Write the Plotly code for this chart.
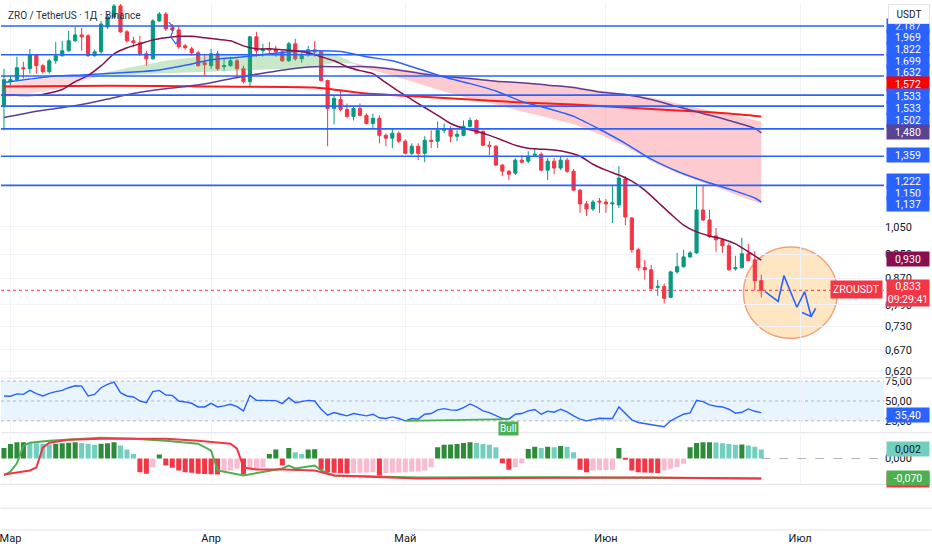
import math
import pandas as pd
import plotly.graph_objects as go

# ---------------- data ----------------
BASE = pd.Timestamp("2025-02-28")
dates = pd.date_range(BASE, periods=118, freq="D")

open_p = [1.630, 1.785, 1.798, 1.878, 1.871, 1.969, 1.892, 1.851, 1.926, 1.962,
          1.998, 2.072, 2.117, 2.110, 1.962, 1.990, 2.180, 2.260, 2.353, 2.141,
          2.072, 2.057, 1.976, 1.940, 2.228, 2.285, 2.172, 2.156, 2.034, 2.012,
          1.983, 1.912, 1.892, 1.976, 1.885, 1.892, 1.926, 1.871, 1.785, 2.102,
          1.998, 2.012, 2.005, 1.990, 1.926, 2.049, 1.940, 1.969, 2.005, 1.990,
          1.792, 1.618, 1.672, 1.613, 1.572, 1.618, 1.578, 1.532, 1.561, 1.467,
          1.452, 1.478, 1.436, 1.374, 1.410, 1.374, 1.441, 1.436, 1.494, 1.500,
          1.462, 1.467, 1.516, 1.549, 1.489, 1.415, 1.410, 1.316, 1.287, 1.278,
          1.340, 1.335, 1.364, 1.369, 1.292, 1.335, 1.302, 1.340, 1.287, 1.201,
          1.142, 1.121, 1.154, 1.150, 1.142, 1.138, 1.251, 1.085, 0.966, 0.905,
          0.898, 0.842, 0.845, 0.812, 0.891, 0.908, 0.941, 0.955, 1.117, 1.077,
          1.016, 1.002, 0.980, 0.901, 0.905, 0.952, 0.931, 0.863]
high_p = [1.871, 1.825, 1.955, 1.919, 2.012, 1.976, 1.905, 1.940, 2.064, 2.072,
          2.148, 2.180, 2.172, 2.125, 2.005, 2.228, 2.285, 2.414, 2.396, 2.156,
          2.102, 2.110, 1.998, 2.244, 2.302, 2.302, 2.203, 2.188, 2.049, 2.027,
          1.998, 1.976, 2.012, 1.998, 1.940, 1.955, 1.940, 1.892, 2.110, 2.141,
          2.049, 2.064, 2.034, 1.998, 2.064, 2.087, 1.983, 2.034, 2.072, 1.998,
          1.798, 1.697, 1.728, 1.648, 1.630, 1.648, 1.589, 1.589, 1.578, 1.478,
          1.505, 1.489, 1.446, 1.425, 1.425, 1.462, 1.494, 1.543, 1.532, 1.516,
          1.494, 1.549, 1.566, 1.555, 1.494, 1.436, 1.415, 1.320, 1.292, 1.350,
          1.364, 1.384, 1.400, 1.379, 1.350, 1.350, 1.359, 1.350, 1.297, 1.206,
          1.154, 1.159, 1.167, 1.163, 1.219, 1.311, 1.264, 1.089, 0.973, 0.931,
          0.914, 0.866, 0.854, 0.895, 0.955, 0.966, 0.962, 1.223, 1.223, 1.117,
          1.046, 1.005, 0.991, 0.945, 1.009, 0.987, 0.962, 0.882]
low_p = [1.494, 1.759, 1.792, 1.805, 1.838, 1.838, 1.838, 1.838, 1.905, 1.955,
         1.990, 2.064, 1.998, 1.955, 1.955, 1.976, 2.164, 2.252, 2.133, 2.057,
         2.027, 1.962, 1.892, 1.933, 2.219, 2.148, 2.141, 2.012, 2.005, 1.962,
         1.885, 1.825, 1.871, 1.858, 1.858, 1.885, 1.805, 1.772, 1.753, 1.955,
         1.955, 1.976, 1.955, 1.919, 1.919, 1.926, 1.912, 1.955, 1.955, 1.785,
         1.410, 1.527, 1.601, 1.561, 1.549, 1.572, 1.527, 1.505, 1.425, 1.410,
         1.400, 1.425, 1.369, 1.364, 1.340, 1.330, 1.400, 1.400, 1.478, 1.430,
         1.436, 1.462, 1.510, 1.473, 1.410, 1.364, 1.311, 1.264, 1.246, 1.269,
         1.325, 1.325, 1.359, 1.287, 1.246, 1.273, 1.292, 1.278, 1.197, 1.105,
         1.093, 1.113, 1.105, 1.105, 1.065, 1.125, 1.057, 0.955, 0.895, 0.866,
         0.835, 0.817, 0.794, 0.809, 0.885, 0.905, 0.938, 0.952, 1.073, 1.009,
         0.959, 0.955, 0.895, 0.895, 0.901, 0.928, 0.832, 0.812]
close_p = [1.798, 1.798, 1.878, 1.871, 1.969, 1.892, 1.851, 1.926, 1.962, 1.998,
           2.072, 2.117, 2.102, 1.962, 1.990, 2.203, 2.260, 2.353, 2.141, 2.072,
           2.057, 1.976, 1.940, 2.228, 2.285, 2.164, 2.156, 2.027, 2.020, 1.983,
           1.892, 1.898, 1.976, 1.871, 1.892, 1.926, 1.871, 1.785, 2.102, 1.998,
           2.012, 2.005, 1.990, 1.926, 2.049, 1.940, 1.962, 2.005, 1.990, 1.792,
           1.618, 1.679, 1.613, 1.572, 1.618, 1.578, 1.532, 1.561, 1.467, 1.452,
           1.478, 1.436, 1.374, 1.410, 1.374, 1.441, 1.436, 1.494, 1.500, 1.462,
           1.473, 1.516, 1.549, 1.478, 1.415, 1.410, 1.316, 1.287, 1.273, 1.340,
           1.330, 1.359, 1.369, 1.292, 1.335, 1.302, 1.340, 1.287, 1.201, 1.142,
           1.121, 1.150, 1.150, 1.142, 1.146, 1.255, 1.089, 0.966, 0.905, 0.898,
           0.838, 0.845, 0.809, 0.891, 0.908, 0.941, 0.955, 1.117, 1.077, 1.013,
           1.002, 0.980, 0.898, 0.905, 0.952, 0.928, 0.863, 0.833]

# moving averages (day index, value)
ma_fast_days = [0, 3, 6, 9] + list(range(11, 118, 2))
ma_fast_vals = [1.702, 1.697, 1.703, 1.734, 1.785, 1.825, 1.892, 1.976, 2.020, 2.049,
                2.079, 2.095, 2.106, 2.106, 2.095, 2.083, 2.072, 2.034, 2.012, 2.012,
                2.005, 1.998, 1.983, 1.955, 1.926, 1.885, 1.858, 1.838, 1.778, 1.722,
                1.672, 1.624, 1.578, 1.532, 1.505, 1.489, 1.467, 1.441, 1.415, 1.400,
                1.395, 1.390, 1.379, 1.359, 1.320, 1.292, 1.269, 1.241, 1.201, 1.150,
                1.101, 1.057, 1.031, 1.016, 1.005, 0.987, 0.959, 0.930]
ma_mid_days = list(range(0, 117, 4)) + [117]
ma_mid_vals = [1.779, 1.802, 1.822, 1.829, 1.839, 1.848, 1.862, 1.895, 1.933, 1.950,
               1.969, 1.990, 1.998, 1.992, 1.955, 1.926, 1.871, 1.815, 1.772, 1.725,
               1.660, 1.618, 1.572, 1.500, 1.425, 1.345, 1.287, 1.243, 1.206, 1.167, 1.150]
ma_slow_days = list(range(0, 117, 4)) + [117]
ma_slow_vals = [1.566, 1.595, 1.618, 1.642, 1.675, 1.709, 1.734, 1.753, 1.778, 1.812,
                1.841, 1.868, 1.885, 1.885, 1.885, 1.868, 1.841, 1.818, 1.805, 1.788,
                1.778, 1.762, 1.747, 1.718, 1.703, 1.672, 1.630, 1.589, 1.549, 1.505, 1.480]
ma_long_days = [0, 16, 32, 48, 56, 64, 72, 80, 88, 96, 104, 112, 117]
ma_long_vals = [1.753, 1.759, 1.753, 1.747, 1.709, 1.691, 1.672, 1.654, 1.642, 1.624,
                1.607, 1.589, 1.572]

# cloud bands
bear1_days = [0, 4, 8, 12, 15]
bear1_upper = [1.759, 1.798, 1.812, 1.818, 1.825]
bear1_lower = [1.685, 1.709, 1.734, 1.785, 1.825]
bull_days = [15, 20, 25, 30, 35, 40, 45, 48, 51, 54]
bull_upper = [1.838, 1.885, 1.926, 1.955, 1.969, 1.976, 1.990, 1.998, 1.976, 1.912]
bull_lower = [1.825, 1.830, 1.840, 1.851, 1.858, 1.865, 1.871, 1.885, 1.912, 1.905]
bear2_days = [54, 56, 60, 64, 68, 72, 76, 80, 84, 88, 92, 96, 100, 104, 108, 112, 117]
bear2_upper = [1.912, 1.892, 1.878, 1.851, 1.825, 1.812, 1.792, 1.779, 1.766, 1.753,
               1.728, 1.709, 1.685, 1.648, 1.613, 1.583, 1.543]
bear2_lower = [1.905, 1.871, 1.825, 1.772, 1.722, 1.679, 1.642, 1.601, 1.566, 1.527,
               1.473, 1.410, 1.335, 1.278, 1.232, 1.192, 1.142]

levels = [2.187, 1.969, 1.822, 1.699, 1.632, 1.502, 1.359, 1.222]
extra_scale_values = [1.533, 1.533, 1.137]
last_price = 0.833
countdown = "09:29:41"

rsi = [56.3, 56.0, 59.0, 58.3, 63.3, 59.2, 56.3, 59.6, 61.7, 63.3,
       66.7, 69.2, 68.8, 56.3, 58.3, 66.7, 70.8, 73.8, 60.4, 56.3,
       55.0, 50.0, 47.9, 61.7, 63.3, 57.5, 57.1, 50.0, 48.8, 47.1,
       42.5, 42.5, 47.1, 42.5, 43.8, 45.8, 42.9, 37.5, 57.1, 50.8,
       50.8, 50.8, 50.4, 46.7, 54.2, 47.9, 49.2, 50.8, 50.0, 39.6,
       32.1, 35.4, 33.3, 31.3, 34.2, 32.9, 31.3, 33.3, 28.8, 27.9,
       30.0, 27.9, 25.0, 27.9, 27.1, 33.3, 34.2, 38.8, 40.4, 38.8,
       38.3, 41.7, 46.3, 42.5, 37.5, 35.4, 32.1, 27.9, 27.1, 33.3,
       34.2, 37.5, 39.2, 33.3, 37.1, 35.8, 39.6, 36.3, 31.3, 27.1,
       25.0, 27.1, 28.3, 27.9, 27.9, 42.5, 34.2, 26.3, 22.9, 21.3,
       20.0, 18.8, 17.5, 25.0, 29.2, 33.3, 35.0, 50.8, 49.2, 45.0,
       43.3, 42.5, 39.6, 34.6, 35.8, 40.0, 37.0, 35.4]
bull_div_days = [62, 78]

hist = [0.00238, 0.00326, 0.00362, 0.00364, 0.00349, 0.00344, 0.00326, 0.00317, 0.00333, 0.00344,
        0.00355, 0.00362, 0.00349, 0.00333, 0.00311, 0.00333, 0.00344, 0.00362, 0.00289, 0.00200,
        0.00104, -0.00304, -0.00340, -0.00193, 0.00089, -0.00155, -0.00206, -0.00266, -0.00304, -0.00317,
        -0.00340, -0.00346, -0.00351, -0.00355, -0.00304, -0.00266, -0.00229, -0.00355, -0.00266, -0.00229,
        -0.00193, 0.00104, 0.00200, -0.00155, 0.00238, 0.00140, 0.00104, 0.00200, 0.00206, -0.00251,
        -0.00304, -0.00317, -0.00326, -0.00333, -0.00326, -0.00317, -0.00311, -0.00304, -0.00377, -0.00322,
        -0.00317, -0.00311, -0.00304, -0.00295, -0.00289, -0.00266, -0.00193, 0.00251, 0.00311, 0.00315,
        0.00326, 0.00349, 0.00362, 0.00349, 0.00326, 0.00311, 0.00251, -0.00104, -0.00251, -0.00193,
        -0.00104, 0.00215, 0.00266, 0.00238, 0.00266, 0.00251, 0.00282, 0.00266, 0.00140, -0.00251,
        -0.00304, -0.00266, -0.00262, -0.00258, -0.00251, 0.00238, -0.00010, -0.00266, -0.00304, -0.00311,
        -0.00317, -0.00322, -0.00266, -0.00229, -0.00193, -0.00118, 0.00251, 0.00349, 0.00362, 0.00366,
        0.00360, 0.00340, 0.00326, 0.00311, 0.00315, 0.00289, 0.00266, 0.00200]

osc_red_days = [0, 4, 5, 6, 7, 10, 15, 20, 25, 30, 35, 36, 37, 39, 43, 48, 51, 64, 80, 100, 117]
osc_red_vals = [-0.056, -0.042, -0.0315, 0.0385, 0.056, 0.0665, 0.07, 0.07, 0.07, 0.063,
                0.0525, 0.035, -0.0315, -0.0385, -0.0385, -0.042, -0.0595, -0.07, -0.068, -0.067, -0.07]
osc_green_days = [0, 1, 2, 3, 4, 7, 15, 20, 25, 30, 32, 33, 37, 41, 43, 44, 45, 48, 49, 51, 64, 85, 117]
osc_green_vals = [-0.0595, -0.046, -0.017, 0.045, 0.056, 0.063, 0.0735, 0.07, 0.063, 0.0525,
                  0.028, -0.042, -0.0595, -0.042, -0.035, -0.0245, -0.035, -0.0245, -0.042, -0.0595,
                  -0.0665, -0.066, -0.07]

# drawings (day offset from BASE, price)
forecast_days = [117.6, 119.6, 120.5, 122.5, 123.7, 124.7]
forecast_prices = [0.829, 0.800, 0.879, 0.783, 0.829, 0.757]
arrowhead_days = [123.3, 124.7, 125.4]
arrowhead_prices = [0.768, 0.757, 0.780]
circle_days = [114.25, 128.75]
circle_prices = [0.699, 0.976]
mark_days = [25.46, 26.23, 25.77, 26.54, 27.31]
mark_prices = [2.219, 2.172, 2.102, 2.049, 2.094]

month_ticks = ["2025-03-01", "2025-04-01", "2025-05-01", "2025-06-01", "2025-07-01"]
month_names = ["Мар", "Апр", "Май", "Июн", "Июл"]
price_ticks = [0.62, 0.67, 0.73, 0.79, 0.87, 0.95, 1.05]
rsi_ticks = [25, 50, 75]

# ---------------- helpers ----------------
def day(d):
    return BASE + pd.Timedelta(days=d)

def fmt(v, n=3):
    return f"{v:.{n}f}".replace(".", ",")

PLOT_W, PLOT_H = 884, 530
def py(ypx):
    return 1 - ypx / PLOT_H

X0 = day(-0.46)
X1 = day(135.96)

GREEN = "#089981"
RED = "#F23645"
BLUE = "#2962FF"
MAROON = "#880E4F"
PURPLE = "#5E3F94"
LRED = "#FF1A1A"

fig = go.Figure()

# clouds
def band(days, up, lo, color):
    xs = [day(d) for d in days] + [day(d) for d in reversed(days)]
    ys = list(up) + list(reversed(lo))
    fig.add_trace(go.Scatter(x=xs, y=ys, fill="toself", fillcolor=color, mode="lines",
                             line=dict(width=0), hoverinfo="skip", xaxis="x", yaxis="y"))

band(bear1_days, bear1_upper, bear1_lower, "rgba(247,82,95,0.22)")
band(bull_days, bull_upper, bull_lower, "rgba(76,175,80,0.30)")
band(bear2_days, bear2_upper, bear2_lower, "rgba(247,82,95,0.30)")

# moving averages
def ma(days, vals, color, width):
    fig.add_trace(go.Scatter(x=[day(d) for d in days], y=vals, mode="lines",
                             line=dict(color=color, width=width, shape="spline", smoothing=0.6),
                             hoverinfo="skip", xaxis="x", yaxis="y"))

ma(ma_long_days, ma_long_vals, LRED, 2)
ma(ma_slow_days, ma_slow_vals, PURPLE, 1.5)
ma(ma_mid_days, ma_mid_vals, BLUE, 1.5)
ma(ma_fast_days, ma_fast_vals, MAROON, 1.5)

# candles
fig.add_trace(go.Candlestick(
    x=dates, open=open_p, high=high_p, low=low_p, close=close_p,
    increasing=dict(line=dict(color=GREEN, width=1), fillcolor=GREEN),
    decreasing=dict(line=dict(color=RED, width=1), fillcolor=RED),
    whiskerwidth=0, hoverinfo="skip", xaxis="x", yaxis="y"))

# horizontal levels
for lv in levels:
    fig.add_trace(go.Scatter(x=[X0, X1], y=[lv, lv], mode="lines",
                             line=dict(color=BLUE, width=1.6), hoverinfo="skip",
                             xaxis="x", yaxis="y"))

# last price dotted line
fig.add_trace(go.Scatter(x=[X0, X1], y=[last_price, last_price], mode="lines",
                         line=dict(color=RED, width=1, dash="dot"), hoverinfo="skip",
                         xaxis="x", yaxis="y"))

# drawings
fig.add_trace(go.Scatter(x=[day(d) for d in forecast_days], y=forecast_prices, mode="lines",
                         line=dict(color=BLUE, width=1.6), hoverinfo="skip", xaxis="x", yaxis="y"))
fig.add_trace(go.Scatter(x=[day(d) for d in arrowhead_days], y=arrowhead_prices, mode="lines",
                         line=dict(color=BLUE, width=1.6), hoverinfo="skip", xaxis="x", yaxis="y"))
fig.add_trace(go.Scatter(x=[day(d) for d in mark_days], y=mark_prices, mode="lines",
                         line=dict(color=BLUE, width=1.2), hoverinfo="skip", xaxis="x", yaxis="y"))

# RSI
fig.add_trace(go.Scatter(x=dates, y=rsi, mode="lines", line=dict(color=BLUE, width=1.4),
                         hoverinfo="skip", xaxis="x", yaxis="y2"))
fig.add_trace(go.Scatter(x=[dates[i] for i in bull_div_days], y=[rsi[i] for i in bull_div_days],
                         mode="lines", line=dict(color="#4CAF50", width=1.6), hoverinfo="skip",
                         xaxis="x", yaxis="y2"))

# histogram
hcolors = []
for i, v in enumerate(hist):
    prev = hist[i - 1] if i > 0 else v
    if v >= 0:
        hcolors.append("#2E8B3A" if v >= prev else "#72CFBE")
    else:
        hcolors.append(RED if v <= prev else "#F8BBD0")
fig.add_trace(go.Bar(x=dates, y=hist, marker=dict(color=hcolors, line=dict(width=0)),
                     width=0.78 * 86400000, hoverinfo="skip", xaxis="x", yaxis="y3"))
fig.add_trace(go.Scatter(x=[dates[-1], X1], y=[0, 0], mode="lines",
                         line=dict(color="#B2B5BE", width=1, dash="dash"), hoverinfo="skip",
                         xaxis="x", yaxis="y3"))
fig.add_trace(go.Scatter(x=[day(d) for d in osc_green_days], y=osc_green_vals, mode="lines",
                         line=dict(color="#4CAF50", width=2), hoverinfo="skip", xaxis="x", yaxis="y4"))
fig.add_trace(go.Scatter(x=[day(d) for d in osc_red_days], y=osc_red_vals, mode="lines",
                         line=dict(color=RED, width=2), hoverinfo="skip", xaxis="x", yaxis="y4"))

# ---------------- layout ----------------
main_dom = [py(376), 1]
rsi_dom = [py(431), py(378)]
osc_dom = [py(483), py(433)]

fig.update_layout(
    width=932, height=550, margin=dict(l=0, r=48, t=0, b=20),
    paper_bgcolor="white", plot_bgcolor="white", showlegend=False,
    font=dict(family="Roboto, Arial, sans-serif", size=11, color="#131722"),
    hovermode=False,
    xaxis=dict(type="date", range=[X0, X1], anchor="free", position=0, domain=[0, 1],
               tickvals=month_ticks, ticktext=month_names, showgrid=True,
               gridcolor="#F0F3FA", gridwidth=1, zeroline=False, showline=False, ticks="",
               ticklabeloverflow="allow",
               rangeslider=dict(visible=False), tickfont=dict(size=11, color="#131722")),
    yaxis=dict(type="log", domain=main_dom, range=[math.log10(0.6066), math.log10(2.370)],
               side="right", anchor="x", tickvals=price_ticks,
               ticktext=[fmt(v) for v in price_ticks], showgrid=True, gridcolor="#F0F3FA",
               zeroline=False, ticks="", showline=False, tickfont=dict(size=11)),
    yaxis2=dict(domain=rsi_dom, range=[11.25, 77.5], side="right", anchor="x",
                tickvals=rsi_ticks, ticktext=[fmt(v, 2) for v in rsi_ticks], showgrid=False,
                zeroline=False, ticks="", showline=False, tickfont=dict(size=11)),
    yaxis3=dict(domain=osc_dom, range=[-0.00555, 0.00555], side="right", anchor="x",
                tickvals=[0], ticktext=["0,000"], showgrid=False, zeroline=False, ticks="",
                showline=False, tickfont=dict(size=11)),
    yaxis4=dict(domain=osc_dom, overlaying="y3", range=[-0.0875, 0.0875], side="right",
                anchor="x", visible=False),
)

shapes = []
# RSI band and levels
shapes.append(dict(type="rect", xref="paper", yref="y2", x0=0, x1=1, y0=25, y1=75,
                   fillcolor="rgba(33,150,243,0.10)", line=dict(width=0), layer="below"))
for lv in rsi_ticks:
    shapes.append(dict(type="line", xref="paper", yref="y2", x0=0, x1=1, y0=lv, y1=lv,
                       line=dict(color="#B2B5BE", width=1, dash="dot"), layer="below"))
# pane separators
for ypx in [377, 432, 484, 508, 530]:
    shapes.append(dict(type="line", xref="paper", yref="paper", x0=0, x1=932 / PLOT_W,
                       y0=py(ypx), y1=py(ypx), line=dict(color="#E0E3EB", width=1)))
# circle drawing
shapes.append(dict(type="circle", xref="x", yref="y",
                   x0=day(circle_days[0]), x1=day(circle_days[1]),
                   y0=circle_prices[0], y1=circle_prices[1],
                   fillcolor="rgba(255,167,38,0.28)", line=dict(color="#F4A27E", width=1.5),
                   layer="below"))
fig.update_layout(shapes=shapes)

ann = []
def tag(text, ypx, bg, fg="white", xpx=886, width=40, h=None):
    ann.append(dict(xref="paper", yref="paper", x=xpx / PLOT_W, y=py(ypx), xanchor="left",
                    yanchor="middle", text=text, showarrow=False, bgcolor=bg,
                    font=dict(size=10.5, color=fg), width=width, align="center", borderpad=1,
                    height=h))

label_rows = [(levels[0], BLUE, 22), (levels[1], BLUE, 33.5), (levels[2], BLUE, 45),
              (levels[3], BLUE, 57), (levels[4], BLUE, 69), (ma_long_vals[-1], "#FF0000", 81),
              (extra_scale_values[0], BLUE, 93), (extra_scale_values[1], BLUE, 105),
              (levels[5], BLUE, 117), (ma_slow_vals[-1], "#5B4391", 129),
              (levels[6], BLUE, 152), (levels[7], BLUE, 178), (ma_mid_vals[-1], BLUE, 190),
              (extra_scale_values[2], BLUE, 202), (ma_fast_vals[-1], MAROON, 257)]
for v, c, ypx in label_rows:
    tag(fmt(v), ypx, c, h=12)

tag(fmt(last_price) + "<br>" + countdown, 291, RED, h=24)
ann.append(dict(xref="paper", yref="paper", x=883 / PLOT_W, y=py(288), xanchor="right",
                yanchor="middle", text="ZROUSDT", showarrow=False, bgcolor=RED,
                font=dict(size=10.5, color="white"), borderpad=2))
tag(fmt(rsi[-1], 2), 414, BLUE, h=12)
tag(fmt(hist[-1]), 448, "#72CFBE", fg="#131722", h=12)
tag(fmt(osc_red_vals[-1]), 480, RED, h=12)
tag(fmt(osc_green_vals[-1]), 478, "#4CAF50", h=12)

# header
ann.append(dict(xref="paper", yref="paper", x=909 / PLOT_W, y=py(10), xanchor="center",
                yanchor="middle", text="USDT", showarrow=False, bgcolor="white",
                bordercolor="#E0E3EB", borderwidth=1, font=dict(size=10, color="#131722"),
                width=38, height=16))
# title
ann.append(dict(xref="paper", yref="paper", x=5 / PLOT_W, y=py(12), xanchor="left",
                yanchor="middle", text="ZRO / TetherUS · 1Д · Binance", showarrow=False,
                font=dict(size=10, color="#2A2E39")))
# Bull label
ann.append(dict(xref="x", yref="y2", x=dates[bull_div_days[1]], y=rsi[bull_div_days[1]],
                xanchor="center", yanchor="top", yshift=-2, text="Bull", showarrow=False,
                bgcolor="#4CAF50", font=dict(size=10, color="white"), borderpad=1))
fig.update_layout(annotations=ann)

fig.write_html("out.html", config={"displayModeBar": False},
               post_script="document.body.style.margin='0';document.body.style.padding='0';")
